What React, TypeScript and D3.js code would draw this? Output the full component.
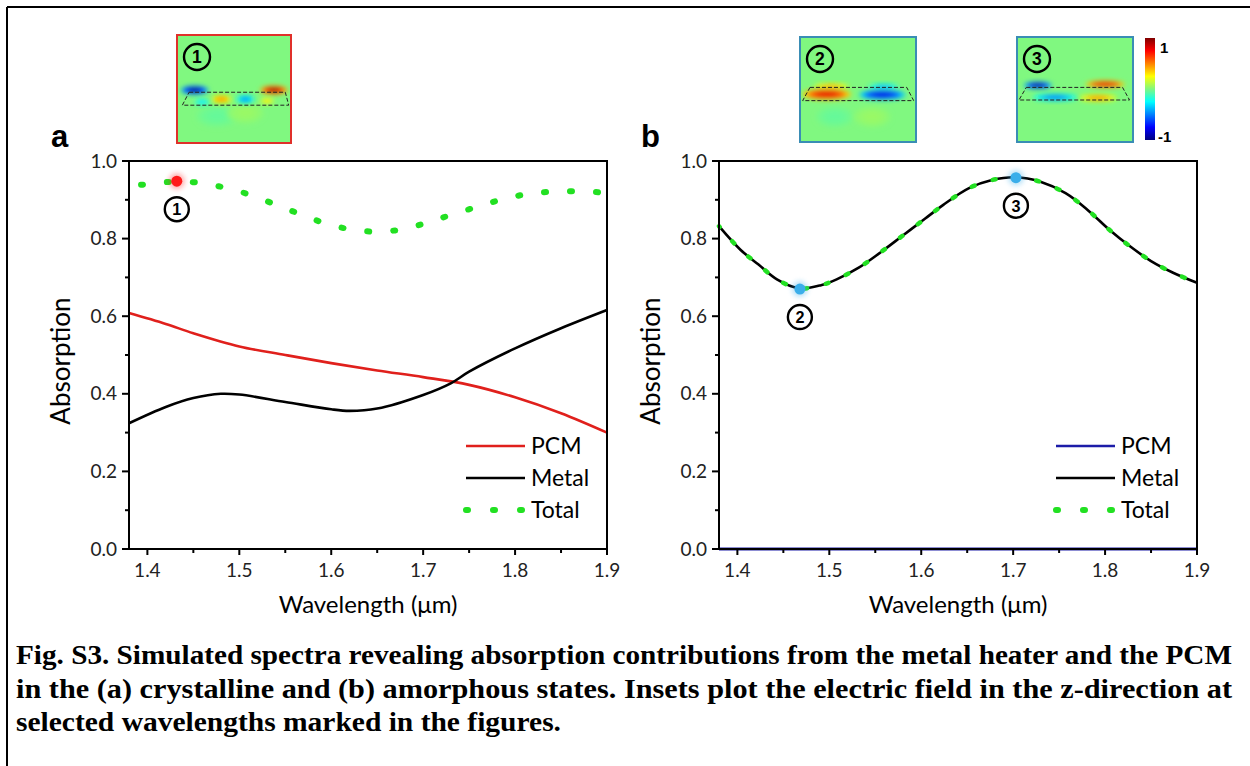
import React from 'react';
import * as d3 from 'd3';

// panel a (crystalline)
const pcmWlA = [1.38, 1.42, 1.45, 1.5, 1.55, 1.6, 1.65, 1.7, 1.75, 1.8, 1.85, 1.9];
const pcmA = [0.608, 0.58, 0.556, 0.522, 0.5, 0.479, 0.46, 0.443, 0.423, 0.391, 0.35, 0.3];
const metalWlA = [1.38, 1.42, 1.45, 1.48, 1.5, 1.55, 1.6, 1.62, 1.65, 1.7, 1.73, 1.75, 1.8, 1.85, 1.9];
const metalA = [0.324, 0.366, 0.389, 0.4, 0.398, 0.379, 0.36, 0.356, 0.362, 0.397, 0.427, 0.457, 0.517, 0.569, 0.616];
const totalWlA = [1.38, 1.395, 1.423, 1.452, 1.481, 1.509, 1.536, 1.563, 1.59, 1.618, 1.646, 1.675, 1.703, 1.73, 1.759, 1.786, 1.814, 1.842, 1.871, 1.9];
const totalA = [0.936, 0.939, 0.946, 0.945, 0.933, 0.915, 0.891, 0.866, 0.842, 0.825, 0.818, 0.823, 0.84, 0.861, 0.882, 0.901, 0.915, 0.921, 0.922, 0.918];

// panel b (amorphous)
const wlB = [1.38, 1.403, 1.423, 1.443, 1.467, 1.491, 1.508, 1.532, 1.556, 1.58, 1.604, 1.624, 1.652, 1.677, 1.703, 1.729, 1.757, 1.781, 1.805, 1.826, 1.85, 1.874, 1.9];
const metalB = [0.832, 0.772, 0.733, 0.695, 0.672, 0.68, 0.695, 0.725, 0.765, 0.808, 0.851, 0.887, 0.93, 0.951, 0.958, 0.947, 0.917, 0.874, 0.822, 0.782, 0.742, 0.712, 0.686];
const totalB = [0.832, 0.772, 0.733, 0.695, 0.672, 0.68, 0.695, 0.725, 0.765, 0.808, 0.851, 0.887, 0.93, 0.951, 0.958, 0.947, 0.917, 0.874, 0.822, 0.782, 0.742, 0.712, 0.686];
const pcmWlB = [1.38, 1.9];
const pcmB = [0, 0];

// marked wavelengths
const markA = [{ id: 1, wl: 1.432, v: 0.948 }];
const markB = [{ id: 2, wl: 1.468, v: 0.67 }, { id: 3, wl: 1.703, v: 0.957 }];

const xTicks = [1.4, 1.5, 1.6, 1.7, 1.8, 1.9];
const yTicks = [0, 0.2, 0.4, 0.6, 0.8, 1.0];
const legendNames = ['PCM', 'Metal', 'Total'];

const captionLines = [
  'Fig. S3. Simulated spectra revealing absorption contributions from the metal heater and the PCM',
  'in the (a) crystalline and (b) amorphous states. Insets plot the electric field in the z-direction at',
  'selected wavelengths marked in the figures.',
];

// inset field blobs: [cx, cy, rx, ry, value] in inset fractions
const field1 = [
  [0.35, 0.75, 0.18, 0.1, -0.05], [0.6, 0.72, 0.16, 0.1, 0.05],
  [0.155, 0.51, 0.12, 0.04, -1], [0.85, 0.51, 0.12, 0.04, 0.95],
  [0.39, 0.595, 0.09, 0.04, 0.45], [0.6, 0.595, 0.08, 0.04, -0.45],
  [0.79, 0.61, 0.06, 0.03, 0.3], [0.22, 0.62, 0.07, 0.03, -0.3],
];
const field2 = [
  [0.3, 0.76, 0.16, 0.1, -0.05], [0.62, 0.76, 0.16, 0.1, 0.05],
  [0.27, 0.47, 0.15, 0.03, 0.4], [0.72, 0.475, 0.13, 0.03, -0.4],
  [0.23, 0.545, 0.21, 0.055, 0.8], [0.71, 0.55, 0.2, 0.05, -0.8],
];
const field3 = [
  [0.18, 0.46, 0.12, 0.035, -0.95], [0.76, 0.45, 0.17, 0.035, 0.8],
  [0.33, 0.575, 0.19, 0.035, -0.5], [0.7, 0.58, 0.16, 0.035, 0.45],
];

const jet = d3.scaleLinear<string>()
  .domain([-1, -0.75, -0.25, 0, 0.25, 0.75, 1])
  .range(['#00007f', '#0000ff', '#00ffff', '#80f880', '#ffff00', '#ff0000', '#7f0000'])
  .clamp(true);

const FONT = 'Lato, "Open Sans", sans-serif';
const Y0 = 549, Y1 = 161;

const Circled = ({ cx, cy, n, r = 12 }: any) => (
  <g>
    <circle cx={cx} cy={cy} r={r} fill="none" stroke="black" strokeWidth={2.4} />
    <text x={cx} y={cy} dy="0.36em" textAnchor="middle" fontFamily="Arial, sans-serif" fontWeight="bold" fontSize={r * 1.35}>{n}</text>
  </g>
);

const Inset = ({ x, y, w, h, border, blobs, trap, n, id }: any) => (
  <g transform={`translate(${x},${y})`}>
    <defs>
      <clipPath id={`clip${id}`}><rect width={w} height={h} /></clipPath>
    </defs>
    <g clipPath={`url(#clip${id})`}>
      <rect width={w} height={h} fill={jet(0)} />
      {blobs.map((b: number[], i: number) => (
        <g key={i} filter="url(#blur)">
          <ellipse cx={b[0] * w} cy={b[1] * h} rx={b[2] * w} ry={b[3] * h} fill={jet(b[4] * 0.45)} />
          <ellipse cx={b[0] * w} cy={b[1] * h} rx={b[2] * w * 0.78} ry={b[3] * h * 0.75} fill={jet(b[4] * 0.75)} />
          <ellipse cx={b[0] * w} cy={b[1] * h} rx={b[2] * w * 0.5} ry={b[3] * h * 0.5} fill={jet(b[4])} />
        </g>
      ))}
      <path d={`M${trap[0] * w},${trap[4] * h}L${trap[1] * w},${trap[4] * h}L${trap[3] * w},${trap[5] * h}L${trap[2] * w},${trap[5] * h}Z`}
        fill="none" stroke="#222" strokeWidth={1} strokeDasharray="4 2" />
    </g>
    <rect width={w} height={h} fill="none" stroke={border} strokeWidth={2} />
    <Circled cx={20} cy={22} n={n} r={13} />
  </g>
);

const Panel = ({ left, letter, series, marks, markColor, labelOffsets }: any) => {
  const right = left + 478;
  const x = d3.scaleLinear().domain([1.38, 1.9]).range([left, right]);
  const y = d3.scaleLinear().domain([0, 1]).range([Y0, Y1]);
  const minorX = d3.range(1.45, 1.9, 0.1);
  const minorY = d3.range(0.1, 1.0, 0.2);
  const lineGen = (wl: number[], v: number[]) =>
    d3.line<number>().x((_, i) => x(wl[i])).y(d => y(d)).curve(d3.curveCatmullRom.alpha(0.5))(v) || '';
  const legX = left + 337;
  return (
    <g fontFamily={FONT}>
      {/* data */}
      {series.map((s: any, i: number) => (
        <path key={i} d={lineGen(s.wl, s.v)} fill="none" stroke={s.color} strokeWidth={s.width}
          strokeDasharray={s.dash} strokeDashoffset={s.offset} strokeLinecap={s.dash ? 'round' : 'butt'} />
      ))}
      {marks.map((m: any, i: number) => (
        <g key={i}>
          <circle cx={x(m.wl)} cy={y(m.v)} r={8} fill={markColor} opacity={0.35} filter="url(#blur)" />
          <circle cx={x(m.wl)} cy={y(m.v)} r={5.5} fill={markColor} />
          <Circled cx={x(m.wl)} cy={y(m.v) + labelOffsets[i]} n={m.id} r={12} />
        </g>
      ))}
      {/* frame */}
      <rect x={left} y={Y1} width={right - left} height={Y0 - Y1} fill="none" stroke="black" strokeWidth={2} />
      {xTicks.map(t => (
        <g key={t}>
          <line x1={x(t)} x2={x(t)} y1={Y0} y2={Y0 + 6} stroke="black" strokeWidth={2} />
          <text x={x(t)} y={Y0 + 28} textAnchor="middle" fontSize={19} fill="#222">{t.toFixed(1)}</text>
        </g>
      ))}
      {minorX.map(t => (
        <line key={t} x1={x(t)} x2={x(t)} y1={Y0} y2={Y0 + 4} stroke="black" strokeWidth={2} />
      ))}
      {yTicks.map(t => (
        <g key={t}>
          <line x1={left - 7} x2={left} y1={y(t)} y2={y(t)} stroke="black" strokeWidth={2} />
          <text x={left - 12} y={y(t)} dy="0.35em" textAnchor="end" fontSize={19} fill="#222">{t.toFixed(1)}</text>
        </g>
      ))}
      {minorY.map(t => (
        <line key={t} x1={left - 4} x2={left} y1={y(t)} y2={y(t)} stroke="black" strokeWidth={2} />
      ))}
      <text transform={`translate(${left - 68},${(Y0 + Y1) / 2 + 6}) rotate(-90)`} textAnchor="middle" dy="0.35em" fontSize={26}>Absorption</text>
      <text x={(left + right) / 2} y={613} textAnchor="middle" fontSize={24}>Wavelength (μm)</text>
      <text x={left - 78} y={147} fontSize={31} fontWeight="bold" fontFamily="Arial, sans-serif">{letter}</text>
      {/* legend */}
      {legendNames.map((nm, i) => {
        const s = series[i];
        const ly = 446 + i * 32;
        return (
          <g key={nm}>
            <line x1={legX} x2={legX + 59} y1={ly} y2={ly} stroke={s.color} strokeWidth={s.dash ? 6 : 2.6}
              strokeDasharray={s.dash ? '2 25' : undefined} strokeLinecap={s.dash ? 'round' : 'butt'} />
            <text x={legX + 65} y={ly} dy="0.36em" fontSize={23}>{nm}</text>
          </g>
        );
      })}
    </g>
  );
};

const App = () => {
  const seriesA = [
    { wl: pcmWlA, v: pcmA, color: '#e0201c', width: 2.6 },
    { wl: metalWlA, v: metalA, color: '#000', width: 2.6 },
    { wl: totalWlA, v: totalA, color: '#22e022', width: 6, dash: '2 24', offset: 14 },
  ];
  const seriesB = [
    { wl: pcmWlB, v: pcmB, color: '#1c1ca8', width: 3 },
    { wl: wlB, v: metalB, color: '#000', width: 2.6 },
    { wl: wlB, v: totalB, color: '#22e022', width: 4.5, dash: '3 19', offset: 2 },
  ];
  return (
    <svg width={1250} height={766} style={{ position: 'absolute', left: 0, top: 0, background: 'white' }}>
      <defs>
        <filter id="blur" x="-50%" y="-50%" width="200%" height="200%">
          <feGaussianBlur stdDeviation={2.6} />
        </filter>
        <linearGradient id="jetbar" x1="0" y1="1" x2="0" y2="0">
          {d3.range(-1, 1.01, 0.125).map(v => (
            <stop key={v} offset={`${((v + 1) / 2) * 100}%`} stopColor={jet(v)} />
          ))}
        </linearGradient>
      </defs>
      <line x1={7} y1={7} x2={1250} y2={7} stroke="black" strokeWidth={2} />
      <line x1={7} y1={7} x2={7} y2={766} stroke="black" strokeWidth={2} />

      <Inset id={1} x={177} y={35} w={114} h={108} border="#e0302a" blobs={field1} trap={[0.106, 0.95, 0.047, 0.98, 0.53, 0.65]} n={1} />
      <Inset id={2} x={800} y={37} w={116} h={105} border="#3a8db5" blobs={field2} trap={[0.086, 0.92, 0.023, 0.98, 0.48, 0.606]} n={2} />
      <Inset id={3} x={1017} y={37} w={116} h={105} border="#3a8db5" blobs={field3} trap={[0.08, 0.91, 0.017, 0.97, 0.48, 0.6]} n={3} />
      <rect x={1145} y={38} width={10} height={102} fill="url(#jetbar)" />
      <text x={1160} y={48} dy="0.35em" fontFamily="Arial, sans-serif" fontWeight="bold" fontSize={15}>1</text>
      <text x={1158} y={137} dy="0.35em" fontFamily="Arial, sans-serif" fontWeight="bold" fontSize={15}>-1</text>

      <Panel left={129} letter="a" series={seriesA} marks={markA} markColor="#ff1a1a" labelOffsets={[28]} />
      <Panel left={719} letter="b" series={seriesB} marks={markB} markColor="#3aaeea" labelOffsets={[28, 28]} />

      <g fontFamily='"Liberation Serif", "Times New Roman", serif' fontWeight="bold" fontSize={27}>
        <text x={16} y={664} textLength={1216} lengthAdjust="spacingAndGlyphs">{captionLines[0]}</text>
        <text x={16} y={698} textLength={1216} lengthAdjust="spacingAndGlyphs">{captionLines[1]}</text>
        <text x={16} y={731} textLength={545} lengthAdjust="spacingAndGlyphs">{captionLines[2]}</text>
      </g>
    </svg>
  );
};

export default App;
